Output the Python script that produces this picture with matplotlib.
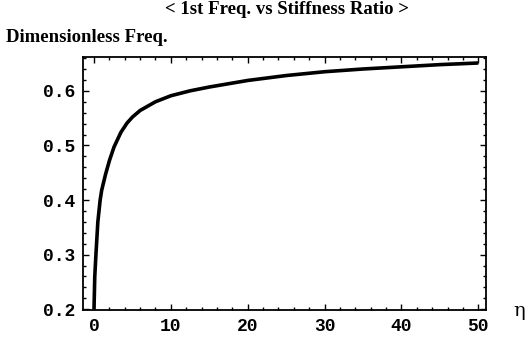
import matplotlib
matplotlib.use("Agg")
import matplotlib.pyplot as plt
from matplotlib.ticker import MultipleLocator, FormatStrFormatter

# Data
eta = [0, 0.1, 0.25, 0.5, 0.8, 1.0, 1.5, 2.0, 2.6, 3.5, 4.3, 5.0, 6.0, 8.0,
       10.0, 12.5, 15.0, 20.0, 25.0, 30.0, 35.0, 40.0, 45.0, 50.0]
freq = [0.2, 0.26, 0.30, 0.36, 0.40, 0.418, 0.447, 0.472, 0.497, 0.524, 0.541,
        0.552, 0.564, 0.580, 0.591, 0.600, 0.607, 0.619, 0.628, 0.635, 0.640,
        0.644, 0.648, 0.651]
x_ticks = [0, 10, 20, 30, 40, 50]
y_ticks = [0.2, 0.3, 0.4, 0.5, 0.6]

fig = plt.figure(figsize=(5.3, 3.39), dpi=100)
ax = fig.add_axes([0.1575, 0.0855, 0.7595, 0.7464])

ax.plot(eta, freq, color="black", lw=2.6, solid_capstyle="butt",
        solid_joinstyle="round")

ax.set_xlim(-1.37, 51.0)
ax.set_ylim(0.1985, 0.662)
ax.set_xticks(x_ticks)
ax.set_yticks(y_ticks)
ax.xaxis.set_minor_locator(MultipleLocator(2))
ax.yaxis.set_minor_locator(MultipleLocator(0.02))
ax.yaxis.set_major_formatter(FormatStrFormatter("%.1f"))

ax.tick_params(which="both", direction="in", top=True, right=True,
               color="black", width=1.0)
ax.tick_params(which="major", length=4.5, pad=6)
ax.tick_params(which="minor", length=2.2)
for lab in ax.get_xticklabels() + ax.get_yticklabels():
    lab.set_fontfamily("Liberation Mono")
    lab.set_fontweight("bold")
    lab.set_fontsize(13)
for sp in ax.spines.values():
    sp.set_linewidth(1.3)

fig.text(287 / 530, 1 - 10 / 339, "< 1st Freq. vs Stiffness Ratio >",
         ha="center", va="center", family="Liberation Serif",
         weight="bold", fontsize=13.5)
fig.text(6 / 530, 1 - 37 / 339, "Dimensionless Freq.",
         ha="left", va="center", family="Liberation Serif",
         weight="bold", fontsize=13.5)
fig.text(519 / 530, 1 - 311 / 339, "η", ha="center", va="center",
         family="DejaVu Serif", fontsize=14)

fig.savefig("out.png", dpi=100)
